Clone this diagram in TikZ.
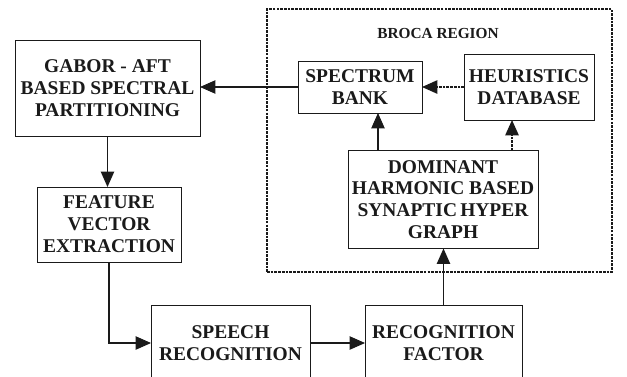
\documentclass[tikz,border=0pt]{standalone}
\usepackage{fontspec}
\setmainfont{Liberation Serif}
\usepackage{tikz}
\usetikzlibrary{arrows.meta, positioning, calc}
\usepackage{xcolor}
\definecolor{ink}{HTML}{1A1A1A}

\begin{document}
\begin{tikzpicture}[x=0.75pt, y=-0.75pt,
    blockbox/.style={draw=ink, line width=0.75pt, inner sep=0pt, outer sep=0pt, align=center,
      font=\fontsize{14.6}{16.4}\selectfont\bfseries, text=ink},
    regionbox/.style={draw=ink, line width=1.3pt, dash pattern=on 2pt off 0.8pt, inner sep=0pt, outer sep=0pt},
    arr/.style={-{Triangle[length=11.5pt, width=10pt]}, draw=ink, line width=0.8pt},
    dasharr/.style={arr, dash pattern=on 2pt off 0.8pt, line width=1.2pt}]
                \useasboundingbox (0,0) rectangle (627,376);
                % Broca region
                \node[regionbox, minimum width=258.75pt, minimum height=197.25pt] (broca) at (439.5,140.5) {};
                \node[font=\fontsize{11.5}{13}\selectfont\bfseries, text=ink] (brocalabel) at (438,33) {BROCA REGION};
                \node[blockbox, minimum width=93pt, minimum height=39pt] (spectrum) at (360,87) {SPECTRUM\\BANK};
                \node[blockbox, minimum width=97.5pt, minimum height=49.5pt] (heuristics) at (529,87) {HEURISTICS\\DATABASE};
                \node[blockbox, minimum width=142.5pt, minimum height=73.5pt] (dominant) at (443,199.5) {DOMINANT\\HARMONIC BASED\\SYNAPTIC\,HYPER\\GRAPH};
                
                % Processing chain
                \node[blockbox, minimum width=138.75pt, minimum height=72pt] (gabor) at (107.5,88) {GABOR - AFT\\BASED SPECTRAL\\PARTITIONING};
                \node[blockbox, minimum width=108pt, minimum height=56.25pt] (feature) at (109,224.5) {FEATURE\\VECTOR\\EXTRACTION};
                \node[blockbox, minimum width=119.25pt, minimum height=57pt] (speech) at (230.5,343) {SPEECH\\RECOGNITION};
                \node[blockbox, minimum width=117.75pt, minimum height=57pt] (recog) at (443.5,343) {RECOGNITION\\FACTOR};
                
                % Connectors
                \draw[arr] (gabor.south) -- (gabor.south |- feature.north);
                \draw[arr] (feature.south) |- (speech.west);
                \draw[arr] (speech.east) -- (speech.east -| recog.west);
                \draw[arr] (recog.north) -- (recog.north |- dominant.south);
                \draw[arr] ([xshift=22.5pt]dominant.north west) -- ([xshift=22.5pt]dominant.north west |- spectrum.south);
                \draw[dasharr] ([xshift=-19.5pt]dominant.north east) -- ([xshift=-19.5pt]dominant.north east |- heuristics.south);
                \draw[dasharr] (heuristics.west) -- (heuristics.west -| spectrum.east);
                \draw[arr] (spectrum.west) -- (spectrum.west -| gabor.east);
            \end{tikzpicture}
\end{document}
